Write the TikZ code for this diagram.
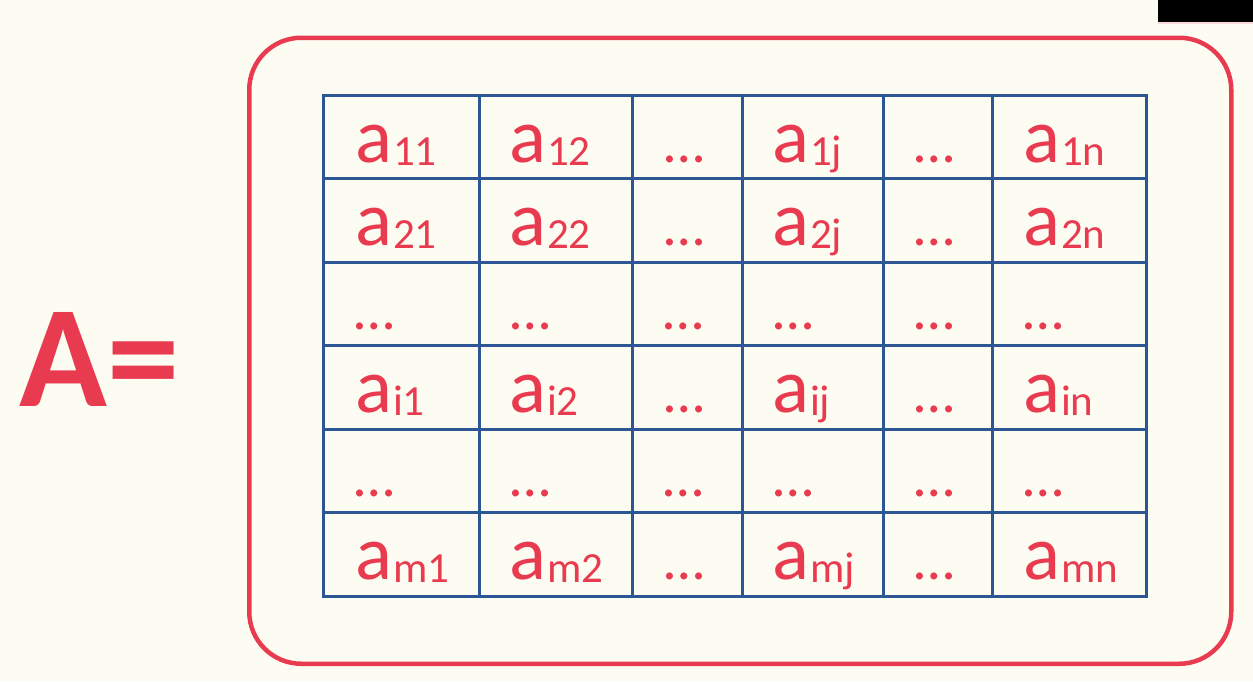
\documentclass[tikz,border=0pt]{standalone}
\usepackage{fontspec}
\setmainfont{Carlito}
\definecolor{bgc}{RGB}{253,252,242}
\definecolor{redc}{RGB}{233,59,80}
\definecolor{gridc}{RGB}{44,87,148}
\newcommand{\mysub}[1]{\fontsize{43}{43}\selectfont\raisebox{-3pt}{#1}}
\newcommand{\elm}[2]{{\fontsize{77}{77}\selectfont a\kern1pt\mysub{#2}}}
\newcommand{\dts}{{\fontsize{58}{58}\selectfont …}}
\begin{document}
\begin{tikzpicture}[x=1pt,y=-1pt,
  cell/.style={anchor=base west,inner sep=0pt,text=redc},
  frame/.style={draw=redc,line width=4.5pt,rounded corners=52pt},
  gridl/.style={draw=gridc,line width=3pt}]
\fill[bgc] (0,0) rectangle (1253,681);
\useasboundingbox (0,0) rectangle (1253,681);
\fill[black] (1158,0) rectangle (1253,22);
\fill[redc!20] (1158,22) rectangle (1253,24);
\node[frame,minimum width=982pt,minimum height=626pt,anchor=north west] (box) at (247,35.5) {};
\node[cell,font=\bfseries\fontsize{145}{145}\selectfont] (A) at (19,406) {A=};
% grid
\foreach \i in {0,...,6}{
  \pgfmathsetmacro{\yy}{95+\i*83.58}
  \draw[gridl] (322,\yy) coordinate (r\i a) -- (1148,\yy) coordinate (r\i b);
}
\foreach \x [count=\k] in {323.5,479,632,742,883.5,992.5,1146.5}{
  \draw[gridl] (\x,95) coordinate (c\k a) -- (\x,596.5) coordinate (c\k b);
}
% contents
\foreach \r/\ra/\rb/\rc in {0/11/12/1j,1/21/22/2j,3/i1/i2/ij,5/m1/m2/mj}{
  \pgfmathsetmacro{\by}{95+\r*83.58+67}
  \node[cell] (e\r a) at (355,\by) {\elm{}{\ra}};
  \node[cell] (e\r b) at (509,\by) {\elm{}{\rb}};
  \node[cell] (e\r c) at (664,\by) {\dts};
  \node[cell] (e\r d) at (772,\by) {\elm{}{\rc}};
  \node[cell] (e\r e) at (914.5,\by) {\dts};
}
\node[cell] (e0f) at (1023,95+67) {\elm{}{1n}};
\node[cell] (e1f) at (1023,95+83.58+67) {\elm{}{2n}};
\node[cell] (e3f) at (1023,95+3*83.58+67) {\elm{}{in}};
\node[cell] (e5f) at (1023,95+5*83.58+67) {\elm{}{mn}};
\foreach \r in {2,4}{
  \pgfmathsetmacro{\by}{95+\r*83.58+67}
  \foreach \x/\n in {323.5/a,479/b,632/c,742/d,883.5/e,992.5/f}{
    \node[cell] (e\r\n) at (\x+31,\by) {\dts};
  }
}
\end{tikzpicture}
\end{document}
